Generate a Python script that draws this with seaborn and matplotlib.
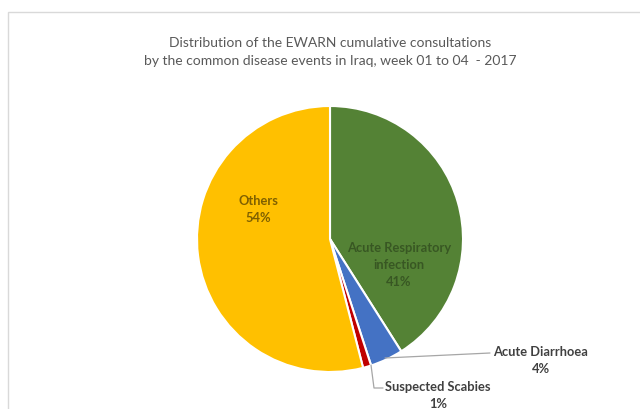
import matplotlib
matplotlib.use("Agg")
import seaborn as sns
from matplotlib import pyplot as plt
from matplotlib.patches import Rectangle

# data (percent of cumulative consultations)
events = ["Acute Respiratory\ninfection", "Acute Diarrhoea", "Suspected Scabies", "Others"]
shares = [41, 4, 1, 54]
colors = ["#548235", "#4472C4", "#C00000", "#FFC000"]

title = ("Distribution of the EWARN cumulative consultations\n"
         "by the common disease events in Iraq, week 01 to 04  - 2017")

sns.set_theme(style="white")
plt.rcParams["font.family"] = ["Lato", "DejaVu Sans"]

W, H = 640, 410
fig = plt.figure(figsize=(6.4, 4.1), dpi=100)
ax = fig.add_axes([0, 0, 1, 1])
ax.set_aspect("equal")

# pie centre / radius in pixel units (y measured from the bottom)
cx, cy, r = 330, H - 240, 133
wedges, _ = ax.pie(shares, colors=colors, startangle=90, counterclock=False,
                   center=(cx, cy), radius=r, frame=True,
                   wedgeprops=dict(edgecolor="white", linewidth=1.5))
ax.set_xlim(0, W)
ax.set_ylim(0, H)
ax.axis("off")

# chart frame (screenshot of an office chart)
fig.patches.append(Rectangle((8 / W, -0.1), 1.2, 1.1 - 13 / H, transform=fig.transFigure,
                             fill=False, edgecolor="#d9d9d9", linewidth=1))

ax.text(W / 2 + 10, H - 52, title, ha="center", va="center", fontsize=10,
        color="#595959", linespacing=1.6)

lbl = dict(ha="center", va="center", fontsize=9.3, fontweight="bold", linespacing=1.5)

# inside labels
ax.text(258, H - 210, f"Others\n{shares[3]}%", color="#7F6000", **lbl)
ax.text(399, H - 265, f"{events[0]}\n{shares[0]}%", color="#385723", **lbl)

# outside labels with leader lines
ax.plot([385, 490], [H - 359, H - 354], color="#a6a6a6", lw=0.9)
ax.text(541, H - 361, f"{events[1]}\n{shares[1]}%", color="#404040", **lbl)

ax.plot([371, 374, 383], [H - 366, H - 389, H - 389], color="#a6a6a6", lw=0.9)
ax.text(438, H - 396, f"{events[2]}\n{shares[2]}%", color="#404040", **lbl)

plt.savefig("out.png", dpi=100, facecolor="white")
